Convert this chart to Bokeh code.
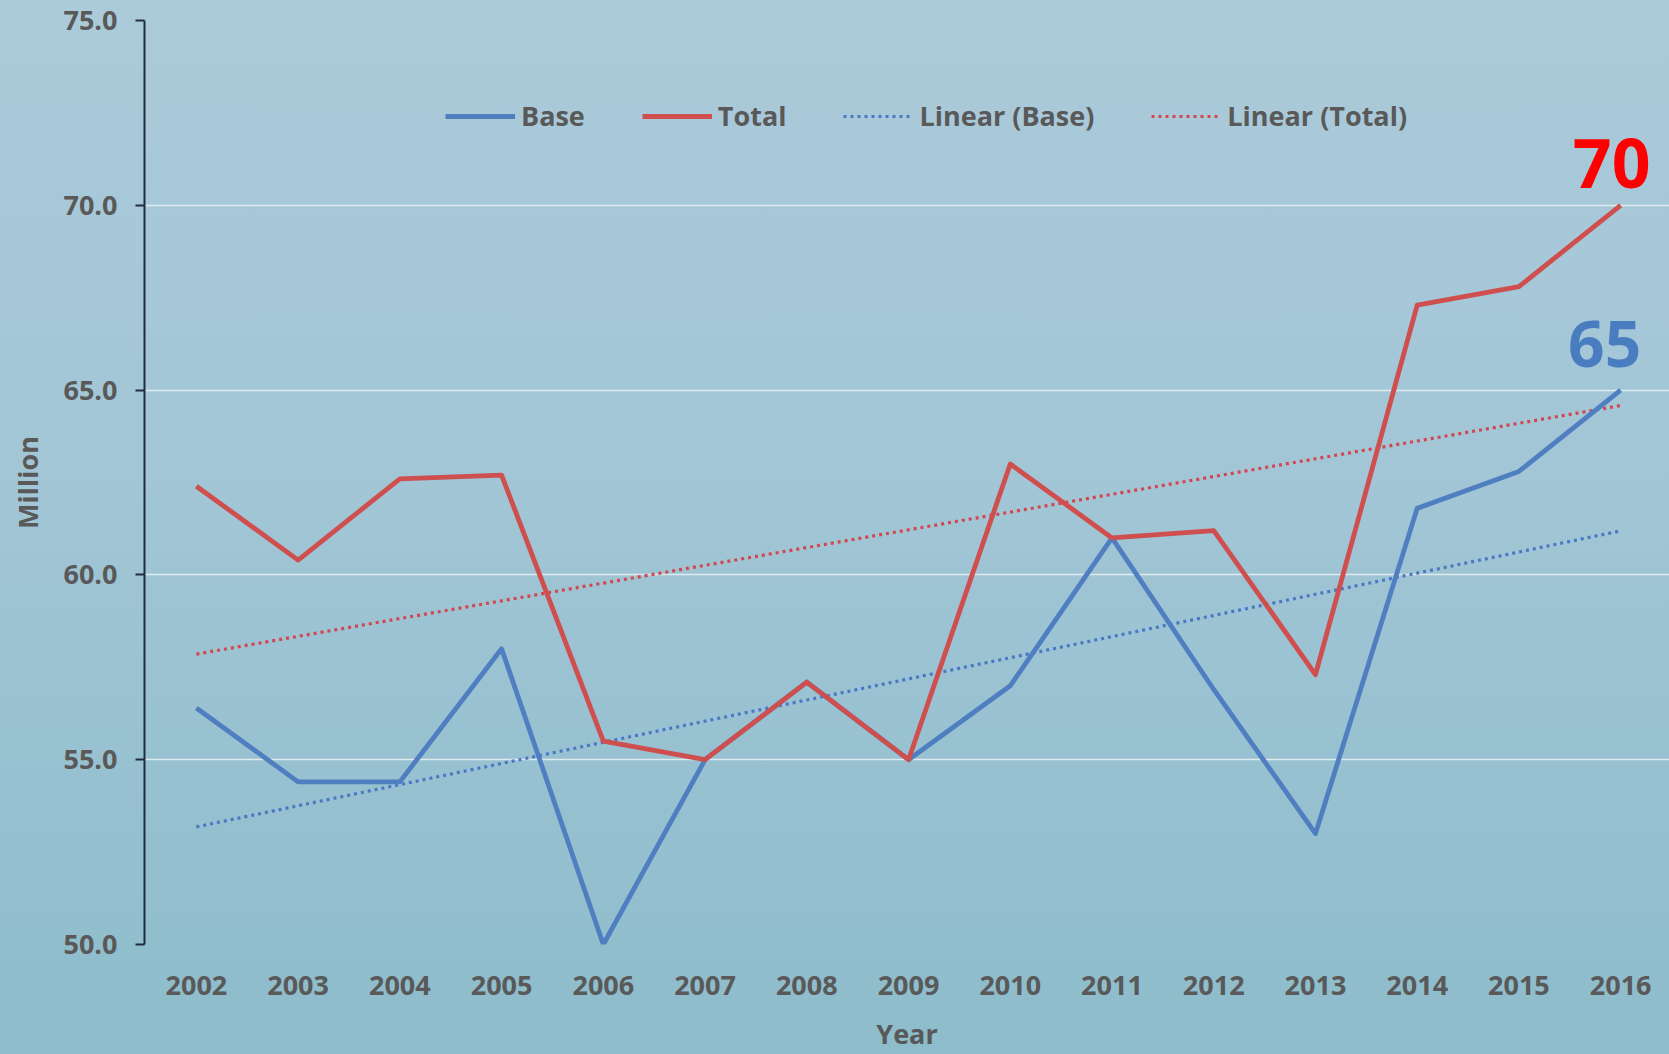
import numpy as np
from bokeh.plotting import figure
from bokeh.models import (ColumnDataSource, FixedTicker, NumeralTickFormatter,
                          Legend, LegendItem, Label, Range1d)
from bokeh.embed import file_html
from bokeh.resources import INLINE

years = [2002, 2003, 2004, 2005, 2006, 2007, 2008, 2009, 2010, 2011, 2012, 2013, 2014, 2015, 2016]
base = [56.4, 54.4, 54.4, 58.0, 50.0, 55.0, 57.1, 55.0, 57.0, 61.0, 56.9, 53.0, 61.8, 62.8, 65.0]
total = [62.4, 60.4, 62.6, 62.7, 55.5, 55.0, 57.1, 55.0, 63.0, 61.0, 61.2, 57.3, 67.3, 67.8, 70.0]
y_ticks = [50, 55, 60, 65, 70, 75]
series_names = ["Base", "Total", "Linear (Base)", "Linear (Total)"]
end_labels = ["70", "65"]

BLUE = "#4f7fc0"
RED = "#cf4f4f"
TXT = "#595959"
FONT = "Open Sans"

x = np.array(years, dtype=float)
b_fit = np.polyval(np.polyfit(x, base, 1), x)
t_fit = np.polyval(np.polyfit(x, total, 1), x)

src = ColumnDataSource(dict(year=years, base=base, total=total,
                            base_fit=list(b_fit), total_fit=list(t_fit)))

p = figure(width=1669, height=1054, output_backend="svg", toolbar_location=None,
           x_range=Range1d(2001.49, 2016.48), y_range=Range1d(50, 75),
           min_border_left=144, min_border_right=0, min_border_top=20,
           min_border_bottom=109)

p.background_fill_alpha = 0
p.border_fill_alpha = 0
p.outline_line_alpha = 0
p.styles = {"background": "linear-gradient(to bottom, #abcada 0%, #a2c6d6 45%, #8dbccb 100%)"}

rbf = p.line("year", "base_fit", source=src, line_color="#4a78c4", line_width=3.2,
             line_dash="3 4")
rtf = p.line("year", "total_fit", source=src, line_color="#d4464f", line_width=3.2,
             line_dash="3 4")
rb = p.line("year", "base", source=src, line_color=BLUE, line_width=4.8,
            line_join="round")
rt = p.line("year", "total", source=src, line_color=RED, line_width=4.8,
            line_join="round")

legend = Legend(items=[LegendItem(label=series_names[0], renderers=[rb]),
                       LegendItem(label=series_names[1], renderers=[rt]),
                       LegendItem(label=series_names[2], renderers=[rbf]),
                       LegendItem(label=series_names[3], renderers=[rtf])],
                orientation="horizontal", location=(301, 810),
                background_fill_alpha=0, border_line_alpha=0,
                padding=0, margin=0, spacing=57, label_standoff=6,
                glyph_width=70, glyph_height=24,
                label_text_font=FONT, label_text_font_style="bold",
                label_text_font_size="27px", label_text_color=TXT)
p.add_layout(legend, "center")

# y axis
p.yaxis.ticker = FixedTicker(ticks=y_ticks)
p.yaxis.formatter = NumeralTickFormatter(format="0.0")
p.yaxis.axis_line_color = "#1f2d3d"
p.yaxis.axis_line_width = 2
p.yaxis.major_tick_line_color = "#1f2d3d"
p.yaxis.major_tick_line_width = 2
p.yaxis.major_tick_in = 0
p.yaxis.major_tick_out = 9
p.yaxis.minor_tick_line_alpha = 0
p.yaxis.major_label_standoff = 18
p.yaxis.axis_label = "Million"
p.yaxis.axis_label_standoff = 14

# x axis
p.xaxis.ticker = FixedTicker(ticks=years)
p.xaxis.axis_line_alpha = 0
p.xaxis.major_tick_line_alpha = 0
p.xaxis.minor_tick_line_alpha = 0
p.xaxis.major_label_standoff = 25
p.xaxis.axis_label = "Year"
p.xaxis.axis_label_standoff = 17

for ax in (p.xaxis, p.yaxis):
    ax.major_label_text_font = FONT
    ax.major_label_text_font_style = "bold"
    ax.major_label_text_font_size = "27px"
    ax.major_label_text_color = TXT
    ax.axis_label_text_font = FONT
    ax.axis_label_text_font_style = "bold"
    ax.axis_label_text_font_size = "27px"
    ax.axis_label_text_color = TXT

p.xgrid.grid_line_alpha = 0
p.ygrid.grid_line_color = "#dfeaef"
p.ygrid.grid_line_width = 1.6

p.add_layout(Label(x=years[-1], y=total[-1], text=end_labels[0], x_offset=-9, y_offset=42,
                   text_align="center", text_baseline="alphabetic",
                   text_font=FONT, text_font_style="bold", text_font_size="68px",
                   text_color="#ff0000"))
p.add_layout(Label(x=years[-1], y=base[-1], text=end_labels[1], x_offset=-16, y_offset=46,
                   text_align="center", text_baseline="alphabetic",
                   text_font=FONT, text_font_style="bold", text_font_size="64px",
                   text_color="#4a7cc0"))

open("out.html", "w").write(file_html(p, INLINE))
